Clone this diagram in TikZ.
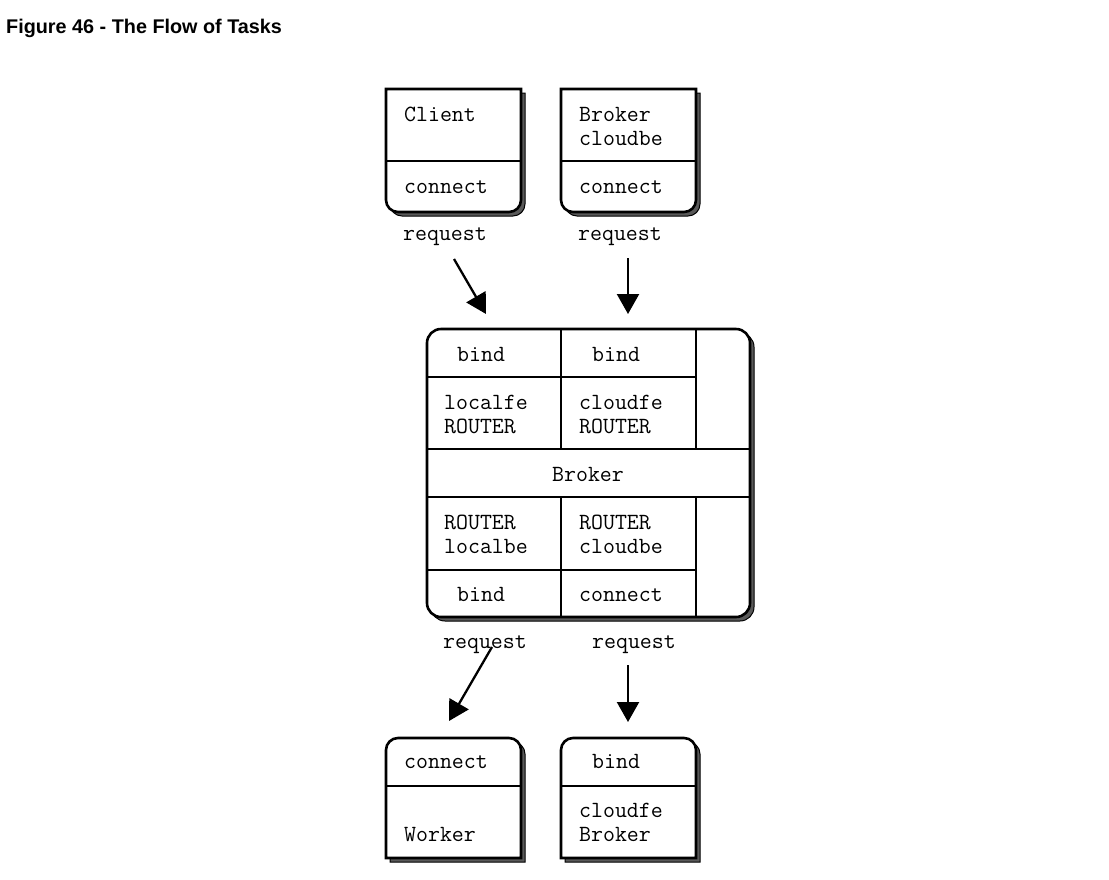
\documentclass[tikz,border=0pt]{standalone}
\usepackage{fontspec}
\setmainfont{Liberation Sans}
\usetikzlibrary{arrows.meta}
\usetikzlibrary{positioning}
\definecolor{shadowgray}{rgb}{0.35,0.35,0.35}

\begin{document}
\begin{tikzpicture}[x=1pt,y=-1pt,
  boxline/.style={line width=2.6pt, fill=white},
  boxshadow/.style={line width=1pt, fill=shadowgray, draw=black},
  cellline/.style={line width=2.2pt},
  celltext/.style={font=\ttfamily\fontsize{23.2}{24}\selectfont, inner sep=0pt, anchor=base west, align=left},
  flow/.style={-{Triangle[length=20pt,width=22pt]}, line width=2.3pt}]
\useasboundingbox (0,0) rectangle (1109,879);
\node[anchor=base west, inner sep=0pt, font=\bfseries\fontsize{19.8}{24}\selectfont] (title) at (6,33) {Figure 46 - The Flow of Tasks};
% top boxes
\filldraw[boxshadow, shift={(4,4)}] (453,212) [rounded corners=12pt] -- (386,212) -- (386,150) [sharp corners] -- (386,89) -- (521,89) -- (521,150) [rounded corners=12pt] -- (521,212) -- cycle;
\filldraw[boxline] (453,212) [rounded corners=12pt] -- (386,212) -- (386,150) [sharp corners] -- (386,89) -- (521,89) -- (521,150) [rounded corners=12pt] -- (521,212) -- cycle;
\draw[cellline] (386,161) -- (521,161);
\filldraw[boxshadow, shift={(4,4)}] (628,212) [rounded corners=12pt] -- (561,212) -- (561,150) [sharp corners] -- (561,89) -- (696,89) -- (696,150) [rounded corners=12pt] -- (696,212) -- cycle;
\filldraw[boxline] (628,212) [rounded corners=12pt] -- (561,212) -- (561,150) [sharp corners] -- (561,89) -- (696,89) -- (696,150) [rounded corners=12pt] -- (696,212) -- cycle;
\draw[cellline] (561,161) -- (696,161);
\node[celltext] (client) at (404,121) {Client};
\node[celltext] (clientconn) at (404,193) {connect};
\node[celltext] (cloudbroker) at (579,145) {Broker\\cloudbe};
\node[celltext] (cloudconn) at (579,193) {connect};
\node[celltext] (req1) at (403,240) {request};
\node[celltext] (req2) at (578,240) {request};
% broker
\draw[boxshadow, rounded corners=14pt, shift={(4,4)}] (427,329) rectangle (750,617);
\draw[boxline, rounded corners=14pt] (427,329) rectangle (750,617);
\draw[cellline] (427,377) -- (696,377);
\draw[cellline] (427,449) -- (750,449);
\draw[cellline] (427,497) -- (750,497);
\draw[cellline] (427,570) -- (696,570);
\draw[cellline] (561,329) -- (561,449);
\draw[cellline] (696,329) -- (696,449);
\draw[cellline] (561,497) -- (561,617);
\draw[cellline] (696,497) -- (696,617);
\node[celltext] (localbind) at (457,361) {bind};
\node[celltext] (cloudbind) at (592,361) {bind};
\node[celltext] (localfe) at (444,433) {localfe\\ROUTER};
\node[celltext] (cloudfe) at (579,433) {cloudfe\\ROUTER};
\node[celltext, anchor=base] (broker) at (588,481) {Broker};
\node[celltext] (localbe) at (444,553) {ROUTER\\localbe};
\node[celltext] (cloudbe) at (579,553) {ROUTER\\cloudbe};
\node[celltext] (bebind) at (457,601) {bind};
\node[celltext] (beconn) at (579,601) {connect};
\node[celltext] (req3) at (443,648) {request};
\node[celltext] (req4) at (592,648) {request};
% bottom boxes
\filldraw[boxshadow, shift={(4,4)}] (453,738) [rounded corners=12pt] -- (386,738) -- (386,800) [sharp corners] -- (386,858) -- (521,858) -- (521,800) [rounded corners=12pt] -- (521,738) -- cycle;
\filldraw[boxline] (453,738) [rounded corners=12pt] -- (386,738) -- (386,800) [sharp corners] -- (386,858) -- (521,858) -- (521,800) [rounded corners=12pt] -- (521,738) -- cycle;
\draw[cellline] (386,786) -- (521,786);
\filldraw[boxshadow, shift={(4,4)}] (628,738) [rounded corners=12pt] -- (561,738) -- (561,800) [sharp corners] -- (561,858) -- (696,858) -- (696,800) [rounded corners=12pt] -- (696,738) -- cycle;
\filldraw[boxline] (628,738) [rounded corners=12pt] -- (561,738) -- (561,800) [sharp corners] -- (561,858) -- (696,858) -- (696,800) [rounded corners=12pt] -- (696,738) -- cycle;
\draw[cellline] (561,786) -- (696,786);
\node[celltext] (workerconn) at (404,768) {connect};
\node[celltext] (worker) at (404,841) {Worker};
\node[celltext] (peerbind) at (592,768) {bind};
\node[celltext] (peer) at (579,841) {cloudfe\\Broker};
% arrows
\coordinate (a1) at (454,259);
\coordinate (b1) at (486,314);
\coordinate (a2) at (628,258);
\coordinate (b2) at (628,314);
\coordinate (a3) at (492,647);
\coordinate (b3) at (449,721);
\coordinate (a4) at (628,665);
\coordinate (b4) at (628,722);
\draw[flow] (a1) -- (b1);
\draw[flow] (a2) -- (b2);
\draw[flow] (a3) -- (b3);
\draw[flow] (a4) -- (b4);
\end{tikzpicture}
\end{document}
